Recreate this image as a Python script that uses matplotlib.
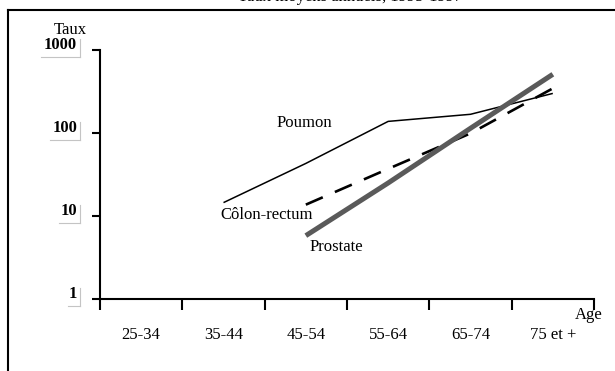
import matplotlib.pyplot as plt
import matplotlib.transforms as mtransforms
from matplotlib.lines import Line2D

# Age groups on the x axis
age_groups = ["25-34", "35-44", "45-54", "55-64", "65-74", "75 et +"]

# Rates (log scale), None where no value
poumon = [None, 14.5, 43, 138, 168, 300]
colon_rectum = [None, None, 13.7, 37, 99, 345]
prostate = [None, None, 5.8, 25, 114, 510]

y_ticks = [1, 10, 100, 1000]
y_tick_labels = ["1", "10", "100", "1000"]

plt.rcParams["font.family"] = ["Liberation Serif", "DejaVu Serif"]

fig = plt.figure(figsize=(6.15, 3.71), dpi=100)
ax = fig.add_axes([100 / 615, 72 / 371, 494 / 615, 249 / 371])


def series(values):
    xs = [i + 0.5 for i, v in enumerate(values) if v is not None]
    ys = [v for v in values if v is not None]
    return xs, ys


x, y = series(poumon)
ax.plot(x, y, color="black", lw=1.1, solid_capstyle="butt")
x, y = series(colon_rectum)
ax.plot(x, y, color="black", lw=1.9, dashes=(7, 5))
x, y = series(prostate)
ax.plot(x, y, color="#5a5a5a", lw=3.6, solid_capstyle="butt")

ax.set_yscale("log")
ax.set_ylim(1, 1000)
ax.set_xlim(0, 6)

for side in ["top", "right"]:
    ax.spines[side].set_visible(False)
for side in ["left", "bottom"]:
    ax.spines[side].set_linewidth(1.5)

# ticks on the group boundaries, names in between
ax.set_xticks(range(7))
ax.set_xticklabels([])
ax.tick_params(axis="x", which="major", direction="out", length=8, width=1.5)
ax.set_xticks([i + 0.5 for i in range(6)], minor=True)
ax.set_xticklabels(age_groups, minor=True, fontsize=12)
ax.tick_params(axis="x", which="minor", length=0, pad=20)

ax.set_yticks(y_ticks)
ax.set_yticks([], minor=True)
ax.set_yticklabels([])
ax.tick_params(axis="y", direction="out", length=6, width=1.5)

# y labels sit a bit above their ticks, with a faint grey corner line
base = mtransforms.blended_transform_factory(ax.transAxes, ax.transData)


def shifted(dx, dy):
    return base + mtransforms.ScaledTranslation(dx / 100, dy / 100, fig.dpi_scale_trans)


for val, lab in zip(y_ticks, y_tick_labels):
    ax.text(0, val, lab, transform=shifted(-23, 5), ha="right", va="center",
            fontsize=12, fontweight="bold", clip_on=False)
    w = 9 * len(lab) + 3
    for (x0, y0, x1, y1) in [(0, 0, 0, 18), (-w, 0, 0, 0)]:
        p0 = shifted(-20 + x0, -7 + y0).transform((0, val))
        p1 = shifted(-20 + x1, -7 + y1).transform((0, val))
        fig.add_artist(Line2D([p0[0] / 615, p1[0] / 615], [p0[1] / 371, p1[1] / 371],
                              color="#c4c4c4", lw=0.8))

# series names
ax.text(2.14, 132, "Poumon", fontsize=12, va="center")
ax.text(1.46, 10.3, "Côlon-rectum", fontsize=12, va="center")
ax.text(2.55, 4.2, "Prostate", fontsize=12, va="center")

ax.annotate("Taux", xy=(0, 1000), xycoords=("axes fraction", "data"),
            xytext=(-46, 20), textcoords="offset pixels", fontsize=12, va="center")
ax.annotate("Age", xy=(1, 0), xycoords="axes fraction",
            xytext=(-19, -16), textcoords="offset pixels", fontsize=12, va="center")

# title mostly cut off at the top of the page, as in the scan
fig.text(350 / 615, 1 - 1 / 371, "Taux moyens annuels, 1995-1997",
         ha="center", va="baseline", fontsize=12)

# outer frame, only the top and left edges are in view
fig.add_artist(Line2D([8 / 615, 8 / 615], [1 - 10 / 371, 0], color="black", lw=1.5))
fig.add_artist(Line2D([8 / 615, 1], [1 - 10 / 371, 1 - 10 / 371], color="black", lw=1.5))

fig.savefig("out.png", dpi=100)
